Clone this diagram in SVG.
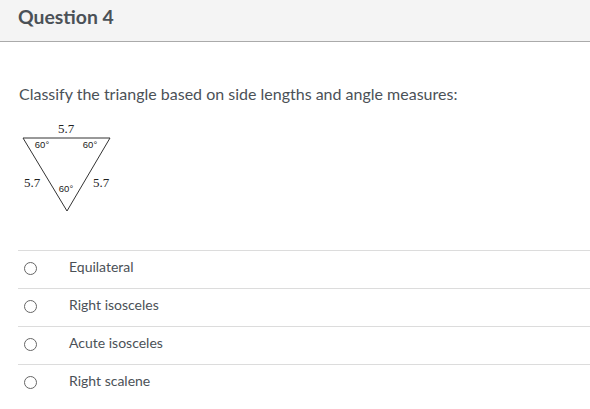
<svg xmlns="http://www.w3.org/2000/svg" width="590" height="409" viewBox="0 0 590 409">
<style>
.t{font-family:Lato,"Liberation Sans",sans-serif;fill:#4b5157}
.opt{font-family:Lato,"Liberation Sans",sans-serif;font-size:14px;fill:#4b5157}
.sep{stroke:#dcdcdc;stroke-width:1}
.rad{fill:#fff;stroke:#666;stroke-width:1}
.m{font-family:"Liberation Serif","Times New Roman",serif;font-size:13px;fill:#222}
.a{font-family:"Liberation Sans",Arial,sans-serif;font-size:9.5px;fill:#222}
</style>
<rect x="0" y="0" width="590" height="41" fill="#f4f4f4"/>
<line x1="0" y1="41.5" x2="590" y2="41.5" stroke="#aaa" stroke-width="1"/>
<text class="t" x="18" y="24" font-size="19.4" font-weight="bold">Question 4</text>
<text class="t" x="19" y="100" font-size="16">Classify the triangle based on side lengths and angle measures:</text>
<g id="triangle">
<polygon points="23,138 110,138 67,211" fill="none" stroke="#333" stroke-width="1"/>
<text class="m" x="66" y="133" text-anchor="middle">5.7</text>
<text class="a" x="42" y="148" text-anchor="middle">60°</text>
<text class="a" x="90" y="148" text-anchor="middle">60°</text>
<text class="m" x="24" y="187">5.7</text>
<text class="a" x="66" y="192" text-anchor="middle">60°</text>
<text class="m" x="93" y="187">5.7</text>
</g>
<g id="options">
<line class="sep" x1="18" y1="250.5" x2="590" y2="250.5"/>
<line class="sep" x1="18" y1="288.5" x2="590" y2="288.5"/>
<line class="sep" x1="18" y1="326.5" x2="590" y2="326.5"/>
<line class="sep" x1="18" y1="364.5" x2="590" y2="364.5"/>
<circle class="rad" cx="30.5" cy="268.5" r="6"/>
<circle class="rad" cx="30.5" cy="306.5" r="6"/>
<circle class="rad" cx="30.5" cy="344.5" r="6"/>
<circle class="rad" cx="30.5" cy="382.5" r="6"/>
<text class="opt" x="69" y="272">Equilateral</text>
<text class="opt" x="69" y="310">Right isosceles</text>
<text class="opt" x="69" y="348">Acute isosceles</text>
<text class="opt" x="69" y="386">Right scalene</text>
</g>
</svg>
